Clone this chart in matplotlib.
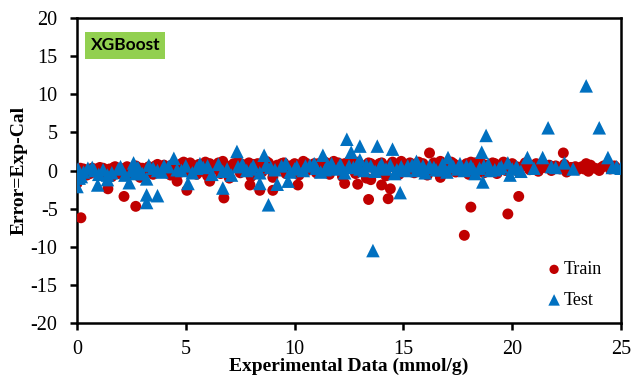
import matplotlib
matplotlib.use("Agg")
import matplotlib.pyplot as plt

plt.rcParams["axes.unicode_minus"] = False

# ---------------- data ----------------
train_x = [
    0.0, 0.1, 0.2, 0.3, 0.4, 0.5, 0.6, 0.7, 0.8, 0.9, 1.0, 1.1, 1.2, 1.3, 1.5, 1.6, 1.7, 1.8, 1.9, 2.0,
    2.1, 2.3, 2.4, 2.5, 2.6, 2.8, 2.9, 3.0, 3.1, 3.3, 3.4, 3.5, 3.6, 3.8, 3.9, 4.0, 4.2, 4.3, 4.4, 4.6,
    4.7, 4.8, 5.0, 5.1, 5.2, 5.4, 5.5, 5.6, 5.8, 5.9, 6.0, 6.2, 6.3, 6.5, 6.6, 6.8, 6.9, 7.0, 7.2, 7.3,
    7.5, 7.6, 7.8, 7.9, 8.0, 8.2, 8.3, 8.5, 8.6, 8.8, 8.9, 9.0, 9.2, 9.3, 9.5, 9.6, 9.8, 9.9, 10.0, 10.2,
    10.3, 10.5, 10.6, 10.8, 11.0, 11.1, 11.3, 11.4, 11.6, 11.7, 11.9, 12.0, 12.2, 12.4, 12.5, 12.7, 12.8, 13.0, 13.1, 13.3,
    13.4, 13.6, 13.8, 13.9, 14.1, 14.2, 14.4, 14.5, 14.7, 14.8, 15.0, 15.2, 15.3, 15.5, 15.6, 15.8, 15.9, 16.1, 16.3, 16.4,
    16.6, 16.8, 16.9, 17.1, 17.2, 17.4, 17.5, 17.7, 17.9, 18.0, 18.2, 18.3, 18.5, 18.7, 18.8, 19.0, 19.2, 19.3, 19.5, 19.7,
    19.9, 20.1, 20.3, 20.5, 20.8, 21.0, 21.2, 21.5, 21.8, 22.0, 22.2, 22.5, 22.7, 23.0, 23.2, 23.5, 23.8, 24.0, 24.2, 24.5,
    24.8,
    0.15, 0.45, 0.75, 1.05, 1.4, 1.75, 2.2, 2.7, 3.2, 3.7, 4.1, 4.5, 4.9, 5.3, 5.7, 6.1, 6.4, 6.7, 7.1, 7.4,
    7.7, 8.1, 8.4, 8.7, 9.1, 9.4, 9.7, 10.1, 10.4, 10.7, 10.9, 11.2, 11.5, 11.8, 12.1, 12.3, 12.6, 12.9, 13.2, 13.5,
    13.7, 14.0, 14.3, 14.6, 14.9, 15.1, 15.4, 15.7, 16.0, 16.5, 16.7, 17.0, 17.3, 17.6, 17.8, 18.1, 18.4, 18.6, 18.9, 19.1,
    19.4, 19.6, 19.8, 20.0, 20.2, 20.6, 20.9, 21.1, 21.3, 21.7, 21.9, 22.4, 22.9, 23.3, 23.6, 24.1, 24.4, 24.7,
    # outliers
    0.18, 0.0, 1.42, 2.16, 2.7, 4.6, 5.05, 6.1, 6.75, 7.95, 8.4, 9.0, 10.15, 12.3, 12.9, 13.4, 13.5, 14.0, 14.4, 14.3,
    16.7, 17.8, 18.1, 19.8, 20.3, 16.2, 22.35, 23.4,
]
train_y = [
    -0.3, 0.1, -0.5, 0.2, -0.2, 0.0, -0.4, 0.3, -0.1, 0.2, -0.6, 0.1, 0.3, -0.3, 0.2, -0.8, 0.4, 0.0, -0.4, 0.3,
    -0.2, 0.5, -0.6, 0.2, -0.1, 0.4, -0.9, 0.3, -0.3, 0.5, 0.0, -0.5, 0.6, 0.2, -0.2, 0.7, 0.1, -0.6, 0.8, 0.3,
    -0.3, 0.9, 0.4, -0.2, 1.0, 0.5, -0.5, 0.8, 0.1, 1.1, -0.7, 0.6, 0.2, 1.0, -0.4, 0.7, 0.3, -1.0, 0.9, 0.4,
    -0.3, 0.8, 0.2, 1.0, -0.8, 0.5, 0.9, -0.2, 0.6, 1.0, 0.1, -0.9, 0.7, 0.3, 1.0, -0.4, 0.6, 0.2, 0.9, -0.6,
    0.4, 1.0, 0.0, 0.7, -0.3, 0.9, 0.4, 1.1, -0.5, 0.6, 0.2, 1.0, -0.8, 0.5, 1.2, 0.1, -0.4, 0.8, 0.3, -1.0,
    1.0, 0.4, -0.2, 0.9, 0.2, -0.7, 0.7, 1.1, 0.0, -0.5, 0.8, 0.3, 1.0, -0.3, 0.6, 0.1, 0.9, -0.6, 0.5, 1.0,
    0.2, -0.4, 0.8, 0.3, 1.1, -0.2, 0.6, 0.0, 0.9, -0.5, 0.4, 1.0, 0.1, -0.3, 0.7, 0.2, 0.9, -0.4, 0.5, 0.0,
    0.8, 0.3, -0.2, 0.6, 0.1, 0.5, -0.1, 0.4, 0.0, 0.6, 0.2, -0.2, 0.4, 0.1, 0.5, -0.1, 0.3, 0.0, 0.6, 0.2,
    0.3,
    0.3, -0.6, 0.0, 0.4, -0.1, 0.5, 0.0, 0.6, 0.1, 0.8, -0.3, 0.5, 1.1, 0.7, -0.1, 0.9, 0.5, 1.2, 0.6, 1.1,
    -0.1, 0.8, 0.2, 1.2, 0.4, 0.9, -0.1, 0.6, 1.2, 0.3, 0.9, -0.1, 0.8, 1.2, 0.3, 0.9, 0.6, 1.1, 0.5, 0.9,
    0.2, 1.0, 0.4, 0.8, 1.2, 0.5, -0.1, 1.1, 0.4, 0.7, 1.2, 0.5, 0.9, -0.1, 0.6, 1.1, 0.5, 0.9, 0.3, 1.0,
    0.6, 1.1, 0.2, 0.9, 0.5, 1.0, 0.6, 0.9, 0.3, 0.7, 0.3, 0.8, 0.5, 0.2, 0.7, 0.4, 0.8, 0.6,
    # outliers
    -6.2, -1.7, -2.4, -3.4, -4.7, -1.4, -2.6, -1.4, -3.6, -1.9, -2.6, -2.6, -1.9, -1.7, -1.8, -3.8, -1.2, -1.9, -2.4, -3.7,
    -0.9, -8.5, -4.8, -5.7, -3.4, 2.3, 2.3, 0.9,
]

test_x = [
    0.0, 0.05, 0.1, 0.3, 0.5, 1.0, 1.2, 1.6, 1.9, 2.2, 2.5, 2.8, 3.0, 3.5, 3.9, 4.2, 4.8, 5.0, 5.3, 5.8,
    6.2, 6.5, 6.9, 7.1, 7.4, 7.8, 8.1, 8.4, 8.7, 9.1, 9.4, 9.8, 10.1, 10.4, 10.7, 11.0, 11.2, 11.5, 11.8, 12.1,
    12.3, 12.7, 12.9, 13.2, 13.5, 13.7, 14.0, 14.2, 14.6, 14.9, 15.1, 15.4, 15.7, 16.0, 16.2, 16.5, 16.8, 17.0, 17.3, 17.6,
    17.8, 18.1, 18.3, 18.5, 18.9, 19.2, 19.5, 20.0, 20.4, 21.0, 21.8, 22.8, 24.6,
    0.2, 0.8, 1.4, 2.0, 2.7, 3.3, 3.7, 4.0, 4.6, 5.5, 6.0, 6.7, 7.6, 8.0, 8.9, 9.6, 10.0, 10.5, 10.9, 11.4,
    11.7, 12.0, 12.5, 13.0, 13.3, 13.9, 14.4, 14.7, 15.2, 15.6, 15.9, 16.4, 16.7, 17.2, 17.5, 17.9, 18.2, 18.7, 19.0, 19.4,
    20.2, 22.0, 25.0,
    # notable points
    23.4, 21.65, 24.0, 24.4, 24.8, 20.7, 21.4, 22.4, 18.8, 18.6, 12.4, 13.0, 13.8, 14.5, 13.6, 14.85, 18.65, 19.9, 12.6, 13.0,
    11.3, 7.35, 8.6, 4.45, 5.65, 8.8, 3.2, 3.7, 3.2, 0.0, 0.95, 5.1, 6.7, 8.4, 9.2, 9.7, 2.4, 3.2, 1.4, 2.6,
    0.7, 17.05, 15.6, 19.8,
]
test_y = [
    -0.5, 0.2, -1.0, -0.2, 0.3, -0.5, 0.1, -0.3, 0.2, -0.6, 0.0, 0.4, -0.4, 0.3, -0.2, 0.5, 0.0, 0.6, -0.3, 0.4,
    -0.5, 0.8, 0.2, -0.6, 0.5, 0.0, 0.6, -0.3, 0.7, 0.1, 0.6, -0.2, 0.5, 0.0, 0.7, 0.3, -0.2, 0.6, 0.2, 0.8,
    -0.3, 0.4, 0.9, 0.0, 0.6, -0.1, 0.8, 0.2, -0.4, 0.5, 0.0, 0.7, 0.2, -0.3, 0.6, 0.1, 0.8, -0.2, 0.5, 0.9,
    0.0, 0.6, -0.4, 0.3, 0.8, 0.1, 0.5, 0.2, -0.1, 0.3, 0.5, 0.2, 0.4,
    -0.8, 0.0, -0.6, 0.5, -0.4, 0.7, 0.0, 0.6, 0.1, 0.3, 0.6, -0.1, 0.8, 0.2, 0.4, 0.9, 0.2, 0.6, 0.9, 0.1,
    0.9, 0.3, 0.6, 0.2, 0.7, 0.4, 0.7, 0.1, 0.6, 0.0, 0.6, 0.4, 0.1, 0.7, 0.2, 0.6, 0.2, 0.6, 0.0, 0.3,
    0.5, 0.4, 0.3,
    # notable points
    11.1, 5.6, 5.6, 1.7, 0.5, 1.7, 1.7, 1.0, 4.6, 2.4, 4.1, 3.2, 3.2, 2.8, -10.5, -2.9, -1.5, -0.6, 2.4, 1.4,
    2.0, 2.5, 2.0, 1.6, 0.9, -4.5, -4.2, -3.3, -3.2, -2.1, -1.9, -1.7, -2.3, -1.7, -1.8, -1.4, -1.6, -1.1, -1.2, 1.0,
    0.4, 1.7, 1.2, 1.0,
]

x_ticks = [0, 5, 10, 15, 20, 25]
y_ticks = [-20, -15, -10, -5, 0, 5, 10, 15, 20]

# ---------------- figure ----------------
fig = plt.figure(figsize=(6.32, 3.76), dpi=100)
ax = fig.add_axes([77/632, 1 - 323/376, (621 - 77)/632, (323 - 18)/376])

red = "#C00000"
blue = "#0070C0"

ax.scatter(train_x, train_y, s=62, marker="o", color=red, edgecolors="none", label="Train", zorder=3)
ax.scatter(test_x, test_y, s=95, marker="^", color=blue, edgecolors="none", label="Test", zorder=4)

ax.set_xlim(0, 25)
ax.set_ylim(-20, 20)
ax.set_xticks(x_ticks)
ax.set_yticks(y_ticks)

serif = "Liberation Serif"
for lab in ax.get_xticklabels() + ax.get_yticklabels():
    lab.set_fontfamily(serif)
    lab.set_fontsize(14.5)

ax.tick_params(direction="out", length=5, width=1.8, colors="black")
ax.tick_params(axis="x", pad=7.5)
ax.tick_params(axis="y", pad=9)
for sp in ax.spines.values():
    sp.set_linewidth(1.8)
    sp.set_color("black")

ax.set_xlabel("Experimental Data (mmol/g)", fontfamily=serif, fontweight="bold", fontsize=14, labelpad=-1)
ax.set_ylabel("Error=Exp-Cal", fontfamily=serif, fontweight="bold", fontsize=14, labelpad=2)

ax.text(0.025, 0.91, "XGBoost", transform=ax.transAxes, fontfamily="Lato", fontweight="bold",
        fontsize=12.5, color="black", va="center", ha="left",
        bbox=dict(boxstyle="square,pad=0.3", facecolor="#92D050", edgecolor="none"))

leg = ax.legend(loc="center", bbox_to_anchor=(0.913, 0.125), frameon=False,
                prop={"family": serif, "size": 13}, handletextpad=0.05,
                handlelength=1.0, labelspacing=0.75, borderpad=0.2, markerscale=0.85)

fig.savefig("out.png", dpi=100)
